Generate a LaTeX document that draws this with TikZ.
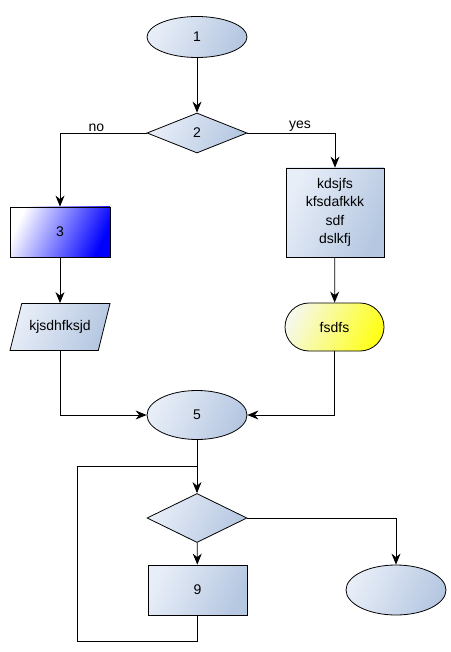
\documentclass[tikz,border=0pt]{standalone}
\usepackage{fontspec}
\setmainfont{Liberation Sans}
\usepackage{tikz}
\usetikzlibrary{arrows.meta}
\usetikzlibrary{positioning, shapes.geometric}

\definecolor{lite}{HTML}{E8EEF8}
\definecolor{dark}{HTML}{B5C7E1}
\definecolor{yel}{HTML}{FFFF1A}

\tikzset{
  base/.style={draw, line width=0.8pt, inner sep=0pt, align=center,
    top color=lite, bottom color=dark, shading angle=65,
    font=\fontsize{14}{18.5}\selectfont},
  ell/.style={base, ellipse, minimum width=100pt, minimum height=41pt},
  dec/.style={base, diamond, aspect=2.5, minimum width=100pt, minimum height=40pt},
  box/.style={base, rectangle, minimum width=100pt, minimum height=50pt},
  io/.style={base, trapezium, trapezium left angle=76, trapezium right angle=104,
    trapezium stretches body=true, inner ysep=17pt, minimum width=100pt},
  term/.style={base, rectangle, rounded corners=24pt, minimum width=99pt, minimum height=48pt},
  lbl/.style={font=\fontsize{14}{16}\selectfont, inner sep=1pt},
  line/.style={line width=0.8pt},
}

\begin{document}
\begin{tikzpicture}[x=1pt, y=-1pt, >={Stealth[length=11pt,width=9pt]}]
\useasboundingbox (0,0) rectangle (450,652);

\node[ell] (start) at (197,37) {1};
\node[dec] (ask) at (197,133) {2};
\node[box, top color=white, bottom color=blue, shading angle=65] (three) at (60,232) {3};
\node[box, minimum width=98pt, minimum height=89pt] (four) at (335,212.5) {kdsjfs\\kfsdafkkk\\sdf\\dslkfj};
\node[io] (input) at (60,327) {kjsdhfksjd};
\node[term, top color=white!85!yel!60!lite, bottom color=yel, shading angle=65] (fsdfs) at (334.5,327) {fsdfs};
\node[ell, minimum height=49pt] (five) at (197,415) {5};
\node[dec, minimum height=49pt, aspect=2] (ask2) at (197,518) {};
\node[box, minimum width=99pt] (nine) at (197.5,590) {9};
\node[ell, minimum height=50pt] (stop) at (396,590) {};

\coordinate (join) at (197,466);
\coordinate (back) at (77,641);

\draw[line, ->] (start) -- (ask);
\draw[line, ->] (ask.west) -| node[lbl, pos=0.29, above] {no} (three);
\draw[line, ->] (ask.east) -| node[lbl, pos=0.3, above] {yes} (four);
\draw[line, ->] (three) -- (input);
\draw[line, ->] (four) -- (fsdfs);
\draw[line, ->] (input.south) |- (five);
\draw[line, ->] (fsdfs.south) |- (five);
\draw[line, ->] (five) -- (ask2);
\draw[line, ->] (ask2) -- (nine);
\draw[line, ->] (ask2.east) -| (stop);
\draw[line] (nine.south) |- (back) |- (join);

\end{tikzpicture}
\end{document}
